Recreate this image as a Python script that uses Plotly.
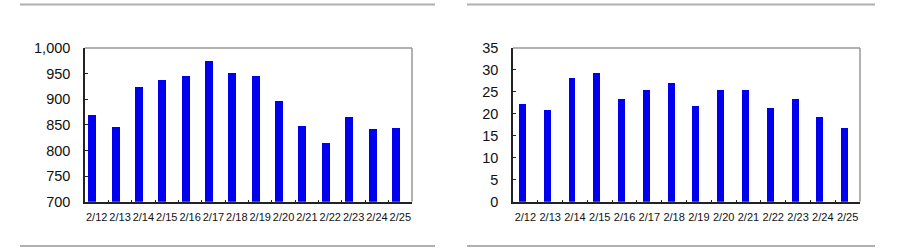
import plotly.graph_objects as go

dates = ["2/12", "2/13", "2/14", "2/15", "2/16", "2/17", "2/18",
         "2/19", "2/20", "2/21", "2/22", "2/23", "2/24", "2/25"]
left_values = [870, 846, 924, 937, 946, 975, 951, 946, 897, 848, 814, 865, 841, 844]
right_values = [22.3, 20.8, 28.2, 29.2, 23.5, 25.4, 27.0, 21.7, 25.4, 25.4, 21.3, 23.3, 19.2, 16.7]

W, H = 900, 252
BAR = "#0000ee"

def px(x):
    return x / W

def py(y):
    return (H - y) / H

fig = go.Figure()
fig.add_trace(go.Bar(x=dates, y=left_values, marker_color=BAR, marker_line_width=0,
                     width=0.34, offset=-0.36, xaxis="x", yaxis="y"))
fig.add_trace(go.Bar(x=dates, y=right_values, marker_color=BAR, marker_line_width=0,
                     width=0.28, offset=-0.26, xaxis="x2", yaxis="y2"))

ydom = [py(201.7), py(48)]
common_x = dict(showline=True, linecolor="#222", linewidth=1.5, ticks="inside", ticklen=2,
                tickcolor="#222", tickson="boundaries", showgrid=False, tickangle=0,
                automargin=False, ticklabelstandoff=4,
                tickfont=dict(family="Liberation Sans, Arial", size=11, color="#111"))
common_y = dict(showline=True, linecolor="#222", linewidth=1.5, ticks="inside", ticklen=3,
                tickcolor="#222", showgrid=False, zeroline=False, automargin=False,
                tickfont=dict(family="Liberation Sans, Arial", size=14.5, color="#111"),
                ticklabelstandoff=10)

fig.update_layout(
    width=W, height=H, margin=dict(l=0, r=0, t=0, b=0, autoexpand=False),
    paper_bgcolor="white", plot_bgcolor="white", showlegend=False,
    bargap=0,
    xaxis=dict(domain=[px(85), px(412)], anchor="y", **common_x),
    yaxis=dict(domain=ydom, anchor="x", range=[700, 1000], dtick=50, tickformat=",", **common_y),
    xaxis2=dict(domain=[px(513), px(860)], anchor="y2", **common_x),
    yaxis2=dict(domain=ydom, anchor="x2", range=[0, 35], dtick=5, **common_y),
)

shapes = []
for (x0, x1) in [(85, 412), (513, 860)]:
    shapes.append(dict(type="line", xref="paper", yref="paper", x0=px(x0), x1=px(x1),
                       y0=py(48), y1=py(48), line=dict(color="#999", width=1.5)))
    shapes.append(dict(type="line", xref="paper", yref="paper", x0=px(x1), x1=px(x1),
                       y0=py(48), y1=py(201.7), line=dict(color="#999", width=1.5)))
for (x0, x1) in [(20, 435), (467, 875)]:
    for y in [4.5, 246]:
        shapes.append(dict(type="line", xref="paper", yref="paper", x0=px(x0), x1=px(x1),
                           y0=py(y), y1=py(y), line=dict(color="#b0b0b0", width=2)))
fig.update_layout(shapes=shapes)

fig.write_html("out.html")
